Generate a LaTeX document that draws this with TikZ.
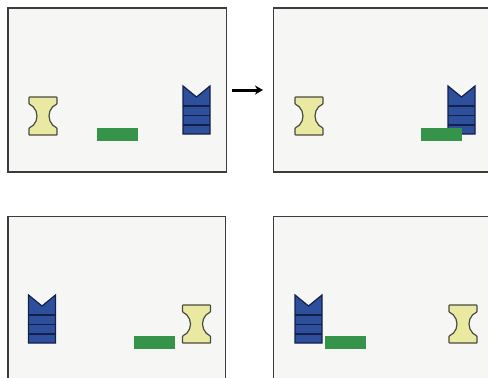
\documentclass[tikz,border=0pt]{standalone}
\usetikzlibrary{arrows.meta}
\definecolor{panelbg}{HTML}{F6F6F5}
\definecolor{frameln}{HTML}{3C3C3C}
\definecolor{yfill}{HTML}{E9E9A2}
\definecolor{yline}{HTML}{4A4A40}
\definecolor{gfill}{HTML}{36934A}
\definecolor{bfill}{HTML}{2E4F9C}
\definecolor{bline}{HTML}{15204A}
\tikzset{
  panel/.style={fill=panelbg, draw=frameln, line width=1.5pt},
  spool/.pic={
    \draw[fill=yfill, draw=yline, line width=1.2pt, rounded corners=0.6pt]
      (0,0) -- (28,0) -- (28,7)
      arc[start angle=247.4, end angle=112.6, radius=13]
      -- (28,38) -- (0,38) -- (0,31)
      arc[start angle=67.4, end angle=-67.4, radius=13] -- cycle;
  },
  chevron/.pic={
    \draw[fill=bfill, draw=bline, line width=1.2pt]
      (0,0) -- (13.5,11) -- (27,0) -- (27,48) -- (0,48) -- cycle;
    \draw[bline, line width=1.4pt] (0,20) -- (27,20) (0,29.5) -- (27,29.5) (0,39) -- (27,39);
  },
  bar/.pic={
    \fill[gfill] (0,0) rectangle (41,13);
  },
}
\begin{document}
\begin{tikzpicture}[x=1pt,y=-1pt]
\useasboundingbox (0,0) rectangle (488,378);
\clip (0,0) rectangle (488,378);
% panels
\draw[panel] (8,8) rectangle (226.5,172);
\draw[panel] (273.5,8) rectangle (500,172);
\draw[panel] (8,216.5) rectangle (225.5,400);
\draw[panel] (273.5,216.5) rectangle (500,400);
% panel 1
\pic at (29,97) {spool};
\pic at (183,86) {chevron};
\pic at (96.5,128) {bar};
% panel 2
\pic at (295,97) {spool};
\pic at (448,86) {chevron};
\pic at (421,128) {bar};
% panel 3
\pic at (28.5,295) {chevron};
\pic at (133.5,336) {bar};
\pic at (182.5,305) {spool};
% panel 4
\pic at (295,295) {chevron};
\pic at (324.5,336) {bar};
\pic at (449,305) {spool};
% arrow
\coordinate (astart) at (232,90);
\coordinate (aend) at (263,90);
\draw[line width=3pt, -{Stealth[length=8pt,width=9pt]}] (astart) -- (aend);
\end{tikzpicture}
\end{document}
